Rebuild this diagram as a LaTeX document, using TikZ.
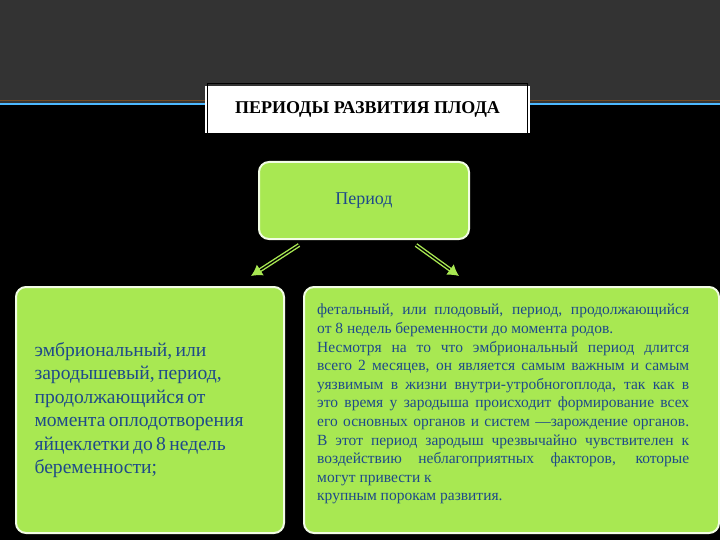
\documentclass[tikz,border=0pt]{standalone}
\usepackage{fontspec}
\setmainfont{Liberation Serif}
\usetikzlibrary{arrows.meta}
\definecolor{lime}{HTML}{A8E852}
\definecolor{txt}{HTML}{1F4A8A}
\definecolor{band}{HTML}{333333}
\tikzset{
 gbox/.style={draw=white!85!lime, line width=2pt, fill=lime, rounded corners=10pt, anchor=north west, inner sep=0pt},
 darr/.style={draw=lime, double=black, double distance=1.4pt, line width=1.4pt, -{Latex[length=11pt,width=13pt,fill=lime]}}
}
\begin{document}
\begin{tikzpicture}[x=1pt,y=-1pt]
\useasboundingbox (0,0) rectangle (720,540);
\fill[black] (0,0) rectangle (720,540);
\fill[band] (0,0) rectangle (720,103);
\draw[color=brown!60!black, line width=0.8pt] (0,100) -- (720,100);
\draw[color=blue!40!cyan!70!white, line width=1.5pt] (0,104) -- (720,104);
\node[draw=white, fill=white, line width=3pt, minimum width=322pt, minimum height=44pt, anchor=north west, inner sep=0pt] (title) at (205,86) {};
\draw[black, line width=0.8pt] ([shift={(2.5,-2.5)}]title.north west) rectangle ([shift={(-2.5,2.5)}]title.south east);
\node at (title.center) {\bfseries\fontsize{18}{20}\selectfont ПЕРИОДЫ РАЗВИТИЯ ПЛОДА};
\node[gbox, minimum width=210pt, minimum height=77pt] (per) at (258,161) {};
\node[text=txt] at (per.center) {\fontsize{18}{20}\selectfont Период};
\node[gbox, minimum width=268pt, minimum height=246pt] (left) at (15,286) {};
\node[gbox, minimum width=415pt, minimum height=246pt] (right) at (303,286) {};
\node[text=txt, text width=250pt, align=left, anchor=west] (lt) at ([xshift=16pt]left.west) {\fontsize{19.6}{23.5}\selectfont эмбриональный, или\\ зародышевый, период,\\ продолжающийся от\\ момента оплодотворения\\ яйцеклетки до 8 недель\\ беременности;\par};
\node[text=txt, text width=372pt, align=justify, anchor=north west, inner sep=0pt] (rt) at (317,304) {\fontsize{15.5}{18.6}\selectfont\hbadness=10000\hfuzz=50pt фетальный, или плодовый, период, продолжающийся\linebreak от 8 недель беременности до момента родов.\\ Несмотря на то что эмбриональный период длится\linebreak всего 2 месяцев, он является самым важным и самым\linebreak уязвимым в жизни внутри-утробногоплода, так как в\linebreak это время у зародыша происходит формирование всех\linebreak его основных органов и систем —зарождение органов.\linebreak В этот период зародыш чрезвычайно чувствителен к\linebreak воздействию неблагоприятных факторов, которые\linebreak могут привести к\\ крупным порокам развития.\par};
\coordinate (la) at (299,245); \coordinate (lb) at (251,276);
\coordinate (ra) at (416,245); \coordinate (rb) at (459,276);
\draw[darr] (la) -- (lb);
\draw[darr] (ra) -- (rb);
\end{tikzpicture}
\end{document}
